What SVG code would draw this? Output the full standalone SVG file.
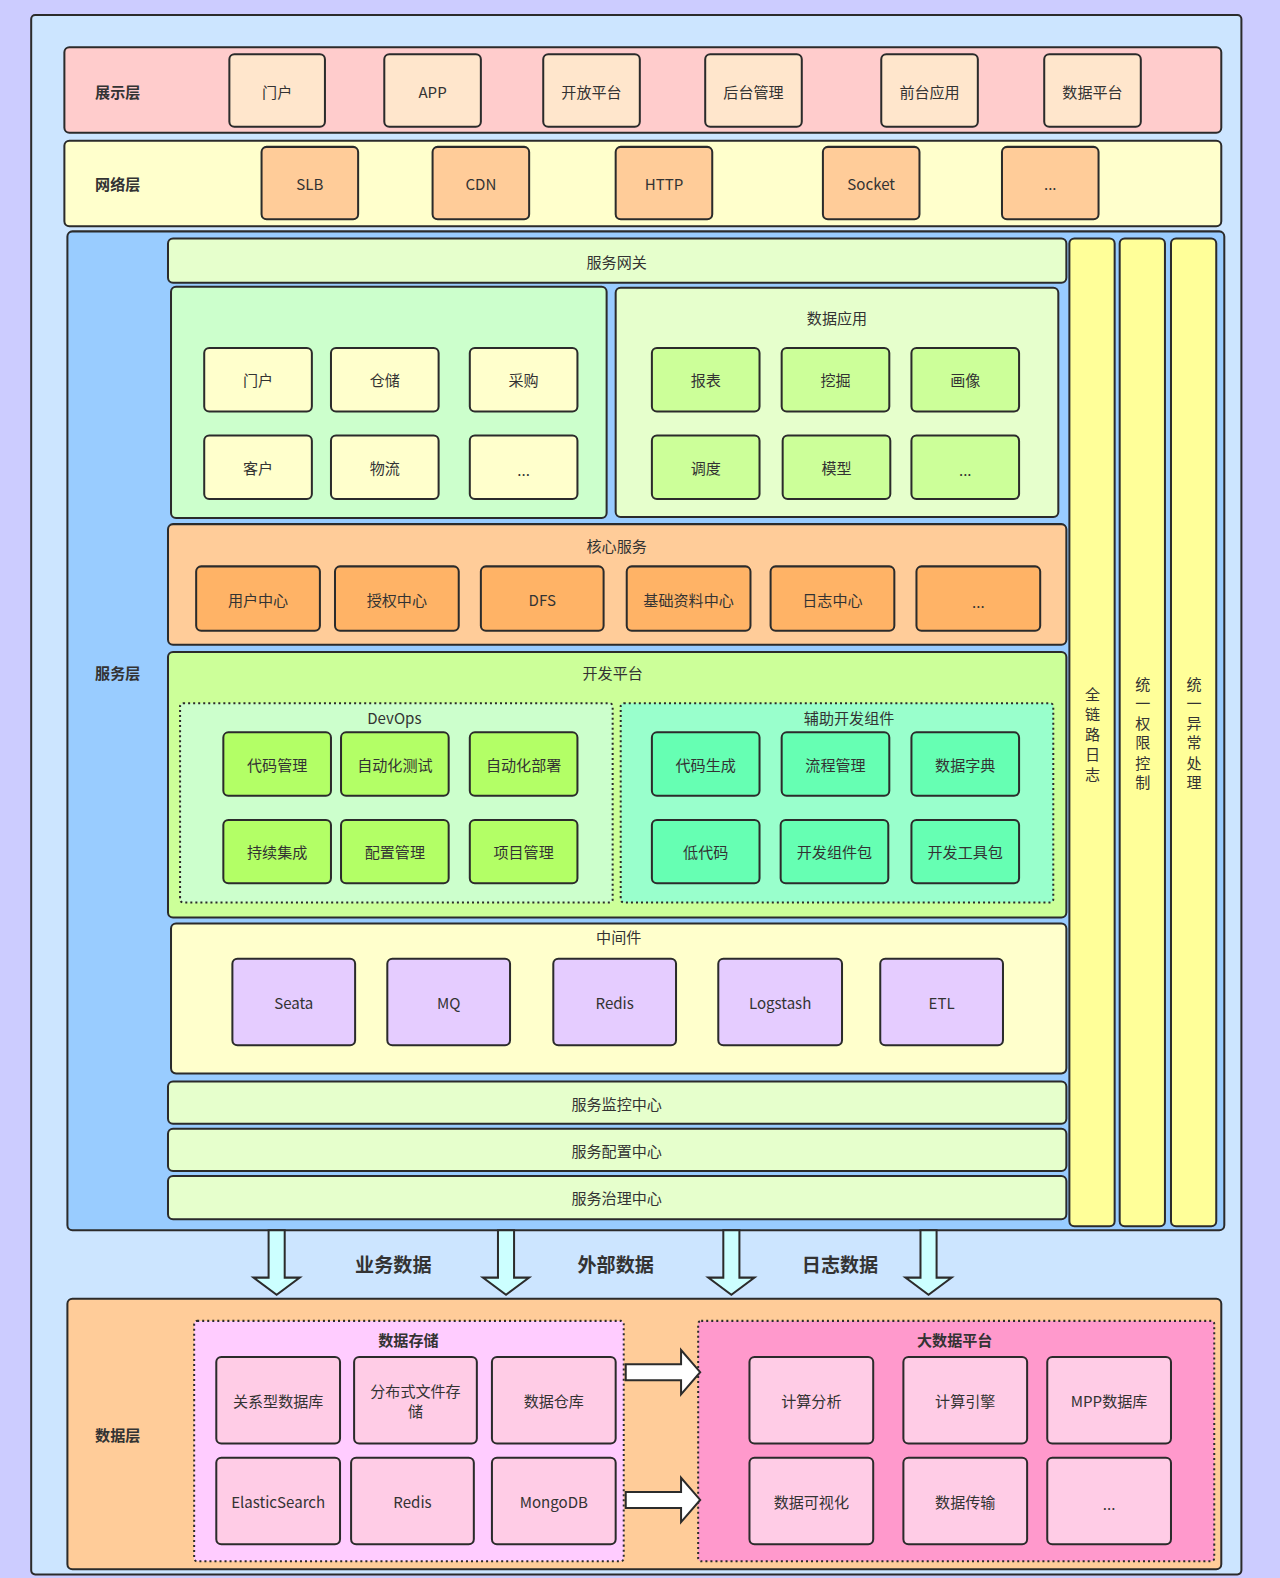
<svg xmlns="http://www.w3.org/2000/svg" width="1280" height="1578" viewBox="0 0 1280 1578">
<style>
.b{stroke:#2b2b2b;stroke-width:2}
.d{stroke:#2b2b2b;stroke-width:2;stroke-dasharray:2 3}
.t{font-family:"Noto Sans CJK SC","Microsoft YaHei",sans-serif;font-size:15px;fill:#333;text-anchor:middle;dominant-baseline:central}
.h{font-weight:bold;fill:#333}
.big{font-size:19px;font-weight:bold}
</style>
<rect width="1280" height="1578" fill="#ccccff"/>
<g transform="scale(1.006)">
<g id="outer"><rect class="b" x="31" y="15" width="1203" height="1550" rx="4" fill="#cce5ff"/></g>

<g id="layer-present">
<rect class="b" x="64" y="47" width="1150" height="85" rx="5" fill="#ffcccc"/>
<text class="t h" x="117" y="90">展示层</text>
</g>
<g id="p1"><rect class="b" x="228" y="54" width="95" height="72" rx="5" fill="#ffe6cc"/><text class="t" x="275.5" y="90">门户</text></g>
<g id="p2"><rect class="b" x="382" y="54" width="96" height="72" rx="5" fill="#ffe6cc"/><text class="t" x="430" y="90">APP</text></g>
<g id="p3"><rect class="b" x="540" y="54" width="96" height="72" rx="5" fill="#ffe6cc"/><text class="t" x="588" y="90">开放平台</text></g>
<g id="p4"><rect class="b" x="701" y="54" width="96" height="72" rx="5" fill="#ffe6cc"/><text class="t" x="749" y="90">后台管理</text></g>
<g id="p5"><rect class="b" x="876" y="54" width="96" height="72" rx="5" fill="#ffe6cc"/><text class="t" x="924" y="90">前台应用</text></g>
<g id="p6"><rect class="b" x="1038" y="54" width="96" height="72" rx="5" fill="#ffe6cc"/><text class="t" x="1086" y="90">数据平台</text></g>

<g id="layer-net">
<rect class="b" x="64" y="140" width="1150" height="85" rx="5" fill="#ffffcc"/>
<text class="t h" x="117" y="182">网络层</text>
</g>
<g id="n1"><rect class="b" x="260" y="146" width="96" height="72" rx="5" fill="#ffcc99"/><text class="t" x="308" y="182">SLB</text></g>
<g id="n2"><rect class="b" x="430" y="146" width="96" height="72" rx="5" fill="#ffcc99"/><text class="t" x="478" y="182">CDN</text></g>
<g id="n3"><rect class="b" x="612" y="146" width="96" height="72" rx="5" fill="#ffcc99"/><text class="t" x="660" y="182">HTTP</text></g>
<g id="n4"><rect class="b" x="818" y="146" width="96" height="72" rx="5" fill="#ffcc99"/><text class="t" x="866" y="182">Socket</text></g>
<g id="n5"><rect class="b" x="996" y="146" width="96" height="72" rx="5" fill="#ffcc99"/><text class="t" x="1044" y="182">...</text></g>

<g id="layer-service">
<rect class="b" x="67" y="230" width="1150" height="993" rx="5" fill="#99ccff"/>
<text class="t h" x="117" y="668">服务层</text>
</g>
<g id="gateway"><rect class="b" x="167" y="237" width="893" height="44" rx="5" fill="#e6ffcc"/><text class="t" x="613" y="259">服务网关</text></g>

<g id="biz"><rect class="b" x="170" y="285" width="433" height="230" rx="5" fill="#ccffcc"/></g>
<g id="b1"><rect class="b" x="203" y="346" width="107" height="63" rx="5" fill="#ffffcc"/><text class="t" x="256.5" y="377">门户</text></g>
<g id="b2"><rect class="b" x="329" y="346" width="107" height="63" rx="5" fill="#ffffcc"/><text class="t" x="382.5" y="377">仓储</text></g>
<g id="b3"><rect class="b" x="467" y="346" width="107" height="63" rx="5" fill="#ffffcc"/><text class="t" x="520.5" y="377">采购</text></g>
<g id="b4"><rect class="b" x="203" y="433" width="107" height="63" rx="5" fill="#ffffcc"/><text class="t" x="256.5" y="464">客户</text></g>
<g id="b5"><rect class="b" x="329" y="433" width="107" height="63" rx="5" fill="#ffffcc"/><text class="t" x="382.5" y="464">物流</text></g>
<g id="b6"><rect class="b" x="467" y="433" width="107" height="63" rx="5" fill="#ffffcc"/><text class="t" x="520.5" y="466">...</text></g>

<g id="dataapp"><rect class="b" x="612" y="286" width="440" height="228" rx="5" fill="#e6ffcc"/><text class="t" x="832" y="315">数据应用</text></g>
<g id="a1"><rect class="b" x="648" y="346" width="107" height="63" rx="5" fill="#ccff99"/><text class="t" x="701.5" y="377">报表</text></g>
<g id="a2"><rect class="b" x="777" y="346" width="107" height="63" rx="5" fill="#ccff99"/><text class="t" x="830.5" y="377">挖掘</text></g>
<g id="a3"><rect class="b" x="906" y="346" width="107" height="63" rx="5" fill="#ccff99"/><text class="t" x="959.5" y="377">画像</text></g>
<g id="a4"><rect class="b" x="648" y="433" width="107" height="63" rx="5" fill="#ccff99"/><text class="t" x="701.5" y="464">调度</text></g>
<g id="a5"><rect class="b" x="778" y="433" width="107" height="63" rx="5" fill="#ccff99"/><text class="t" x="831.5" y="464">模型</text></g>
<g id="a6"><rect class="b" x="906" y="433" width="107" height="63" rx="5" fill="#ccff99"/><text class="t" x="959.5" y="466">...</text></g>

<g id="core"><rect class="b" x="167" y="521" width="893" height="120" rx="5" fill="#ffcc99"/><text class="t" x="613" y="542">核心服务</text></g>
<g id="c1"><rect class="b" x="195" y="563" width="123" height="64" rx="5" fill="#ffb366"/><text class="t" x="256.5" y="595">用户中心</text></g>
<g id="c2"><rect class="b" x="333" y="563" width="123" height="64" rx="5" fill="#ffb366"/><text class="t" x="394.5" y="595">授权中心</text></g>
<g id="c3"><rect class="b" x="478" y="563" width="122" height="64" rx="5" fill="#ffb366"/><text class="t" x="539" y="595">DFS</text></g>
<g id="c4"><rect class="b" x="623" y="563" width="123" height="64" rx="5" fill="#ffb366"/><text class="t" x="684.5" y="595">基础资料中心</text></g>
<g id="c5"><rect class="b" x="766" y="563" width="123" height="64" rx="5" fill="#ffb366"/><text class="t" x="827.5" y="595">日志中心</text></g>
<g id="c6"><rect class="b" x="911" y="563" width="123" height="64" rx="5" fill="#ffb366"/><text class="t" x="972.5" y="597">...</text></g>

<g id="devplat"><rect class="b" x="167" y="648" width="893" height="264" rx="5" fill="#ccff99"/><text class="t" x="609" y="668">开发平台</text></g>
<g id="devops"><rect class="d" x="179" y="699" width="430" height="198" rx="3" fill="#ccffcc"/><text class="t" x="392" y="713">DevOps</text></g>
<g id="d1"><rect class="b" x="222" y="728" width="107" height="63" rx="5" fill="#b3ff66"/><text class="t" x="275.5" y="759">代码管理</text></g>
<g id="d2"><rect class="b" x="339" y="728" width="107" height="63" rx="5" fill="#b3ff66"/><text class="t" x="392.5" y="759">自动化测试</text></g>
<g id="d3"><rect class="b" x="467" y="728" width="107" height="63" rx="5" fill="#b3ff66"/><text class="t" x="520.5" y="759">自动化部署</text></g>
<g id="d4"><rect class="b" x="222" y="815" width="107" height="63" rx="5" fill="#b3ff66"/><text class="t" x="275.5" y="846">持续集成</text></g>
<g id="d5"><rect class="b" x="339" y="815" width="107" height="63" rx="5" fill="#b3ff66"/><text class="t" x="392.5" y="846">配置管理</text></g>
<g id="d6"><rect class="b" x="467" y="815" width="107" height="63" rx="5" fill="#b3ff66"/><text class="t" x="520.5" y="846">项目管理</text></g>

<g id="aux"><rect class="d" x="617" y="699" width="430" height="198" rx="3" fill="#99ffcc"/><text class="t" x="844" y="713">辅助开发组件</text></g>
<g id="x1"><rect class="b" x="648" y="728" width="107" height="63" rx="5" fill="#66ffb3"/><text class="t" x="701.5" y="759">代码生成</text></g>
<g id="x2"><rect class="b" x="777" y="728" width="107" height="63" rx="5" fill="#66ffb3"/><text class="t" x="830.5" y="759">流程管理</text></g>
<g id="x3"><rect class="b" x="906" y="728" width="107" height="63" rx="5" fill="#66ffb3"/><text class="t" x="959.5" y="759">数据字典</text></g>
<g id="x4"><rect class="b" x="648" y="815" width="107" height="63" rx="5" fill="#66ffb3"/><text class="t" x="701.5" y="846">低代码</text></g>
<g id="x5"><rect class="b" x="776" y="815" width="107" height="63" rx="5" fill="#66ffb3"/><text class="t" x="829.5" y="846">开发组件包</text></g>
<g id="x6"><rect class="b" x="906" y="815" width="107" height="63" rx="5" fill="#66ffb3"/><text class="t" x="959.5" y="846">开发工具包</text></g>

<g id="middleware"><rect class="b" x="170" y="918" width="890" height="149" rx="5" fill="#ffffcc"/><text class="t" x="615" y="930">中间件</text></g>
<g id="m1"><rect class="b" x="231" y="953" width="122" height="86" rx="5" fill="#e5ccff"/><text class="t" x="292" y="996">Seata</text></g>
<g id="m2"><rect class="b" x="385" y="953" width="122" height="86" rx="5" fill="#e5ccff"/><text class="t" x="446" y="996">MQ</text></g>
<g id="m3"><rect class="b" x="550" y="953" width="122" height="86" rx="5" fill="#e5ccff"/><text class="t" x="611" y="996">Redis</text></g>
<g id="m4"><rect class="b" x="714" y="953" width="123" height="86" rx="5" fill="#e5ccff"/><text class="t" x="775.5" y="996">Logstash</text></g>
<g id="m5"><rect class="b" x="875" y="953" width="122" height="86" rx="5" fill="#e5ccff"/><text class="t" x="936" y="996">ETL</text></g>

<g id="monitor"><rect class="b" x="167" y="1075" width="893" height="42" rx="5" fill="#e6ffcc"/><text class="t" x="613" y="1096">服务监控中心</text></g>
<g id="config"><rect class="b" x="167" y="1122" width="893" height="42" rx="5" fill="#e6ffcc"/><text class="t" x="613" y="1143">服务配置中心</text></g>
<g id="govern"><rect class="b" x="167" y="1169" width="893" height="43" rx="5" fill="#e6ffcc"/><text class="t" x="613" y="1190">服务治理中心</text></g>

<g id="v1"><rect class="b" x="1063" y="237" width="45" height="982" rx="5" fill="#ffff99"/>
<text class="t" x="1086" y="689">全</text><text class="t" x="1086" y="709">链</text><text class="t" x="1086" y="729">路</text><text class="t" x="1086" y="749">日</text><text class="t" x="1086" y="768">志</text></g>
<g id="v2"><rect class="b" x="1113" y="237" width="45" height="982" rx="5" fill="#ffff99"/>
<text class="t" x="1136" y="679">统</text><text class="t" x="1136" y="698">一</text><text class="t" x="1136" y="718">权</text><text class="t" x="1136" y="737">限</text><text class="t" x="1136" y="757">控</text><text class="t" x="1136" y="776">制</text></g>
<g id="v3"><rect class="b" x="1164" y="237" width="45" height="982" rx="5" fill="#ffff99"/>
<text class="t" x="1187" y="679">统</text><text class="t" x="1187" y="698">一</text><text class="t" x="1187" y="718">异</text><text class="t" x="1187" y="737">常</text><text class="t" x="1187" y="757">处</text><text class="t" x="1187" y="776">理</text></g>

<g id="layer-data">
<rect class="b" x="67" y="1291" width="1147" height="269" rx="5" fill="#ffcc99"/>
<text class="t h" x="117" y="1425">数据层</text>
</g>
<g id="storage"><rect class="d" x="193" y="1313" width="427" height="239" rx="3" fill="#ffccff"/><text class="t h" x="406" y="1331">数据存储</text></g>
<g id="s1"><rect class="b" x="215" y="1349" width="123" height="86" rx="5" fill="#ffcce6"/><text class="t" x="276.5" y="1392">关系型数据库</text></g>
<g id="s2"><rect class="b" x="352" y="1349" width="122" height="86" rx="5" fill="#ffcce6"/><text class="t" x="413" y="1382">分布式文件存</text><text class="t" x="413" y="1402">储</text></g>
<g id="s3"><rect class="b" x="489" y="1349" width="123" height="86" rx="5" fill="#ffcce6"/><text class="t" x="550.5" y="1392">数据仓库</text></g>
<g id="s4"><rect class="b" x="215" y="1449" width="123" height="86" rx="5" fill="#ffcce6"/><text class="t" x="276.5" y="1492">ElasticSearch</text></g>
<g id="s5"><rect class="b" x="349" y="1449" width="122" height="86" rx="5" fill="#ffcce6"/><text class="t" x="410" y="1492">Redis</text></g>
<g id="s6"><rect class="b" x="489" y="1449" width="123" height="86" rx="5" fill="#ffcce6"/><text class="t" x="550.5" y="1492">MongoDB</text></g>

<g id="bigdata"><rect class="d" x="694" y="1313" width="513" height="239" rx="3" fill="#ff99cc"/><text class="t h" x="949" y="1331">大数据平台</text></g>
<g id="g1"><rect class="b" x="745" y="1349" width="123" height="86" rx="5" fill="#ffcce6"/><text class="t" x="806.5" y="1392">计算分析</text></g>
<g id="g2"><rect class="b" x="898" y="1349" width="123" height="86" rx="5" fill="#ffcce6"/><text class="t" x="959.5" y="1392">计算引擎</text></g>
<g id="g3"><rect class="b" x="1041" y="1349" width="123" height="86" rx="5" fill="#ffcce6"/><text class="t" x="1102.5" y="1392">MPP数据库</text></g>
<g id="g4"><rect class="b" x="745" y="1449" width="123" height="86" rx="5" fill="#ffcce6"/><text class="t" x="806.5" y="1492">数据可视化</text></g>
<g id="g5"><rect class="b" x="898" y="1449" width="123" height="86" rx="5" fill="#ffcce6"/><text class="t" x="959.5" y="1492">数据传输</text></g>
<g id="g6"><rect class="b" x="1041" y="1449" width="123" height="86" rx="5" fill="#ffcce6"/><text class="t" x="1102.5" y="1494">...</text></g>

<g id="connectors">
<path class="b" fill="#ccffff" d="M267,1223 L283,1223 L283,1270 L298,1270 L275,1287 L252,1270 L267,1270 Z"/>
<path class="b" fill="#ccffff" d="M495,1223 L511,1223 L511,1270 L526,1270 L503,1287 L480,1270 L495,1270 Z"/>
<path class="b" fill="#ccffff" d="M719,1223 L735,1223 L735,1270 L750,1270 L727,1287 L704,1270 L719,1270 Z"/>
<path class="b" fill="#ccffff" d="M915,1223 L931,1223 L931,1270 L946,1270 L923,1287 L900,1270 L915,1270 Z"/>
<text class="t big" x="391" y="1256">业务数据</text>
<text class="t big" x="612" y="1256">外部数据</text>
<text class="t big" x="835" y="1256">日志数据</text>
<path class="b" fill="#ffffff" d="M622,1356 L677,1356 L677,1342 L696,1364 L677,1386 L677,1372 L622,1372 Z"/>
<path class="b" fill="#ffffff" d="M622,1483 L677,1483 L677,1469 L696,1491 L677,1513 L677,1499 L622,1499 Z"/>
</g>
</g>
</svg>
